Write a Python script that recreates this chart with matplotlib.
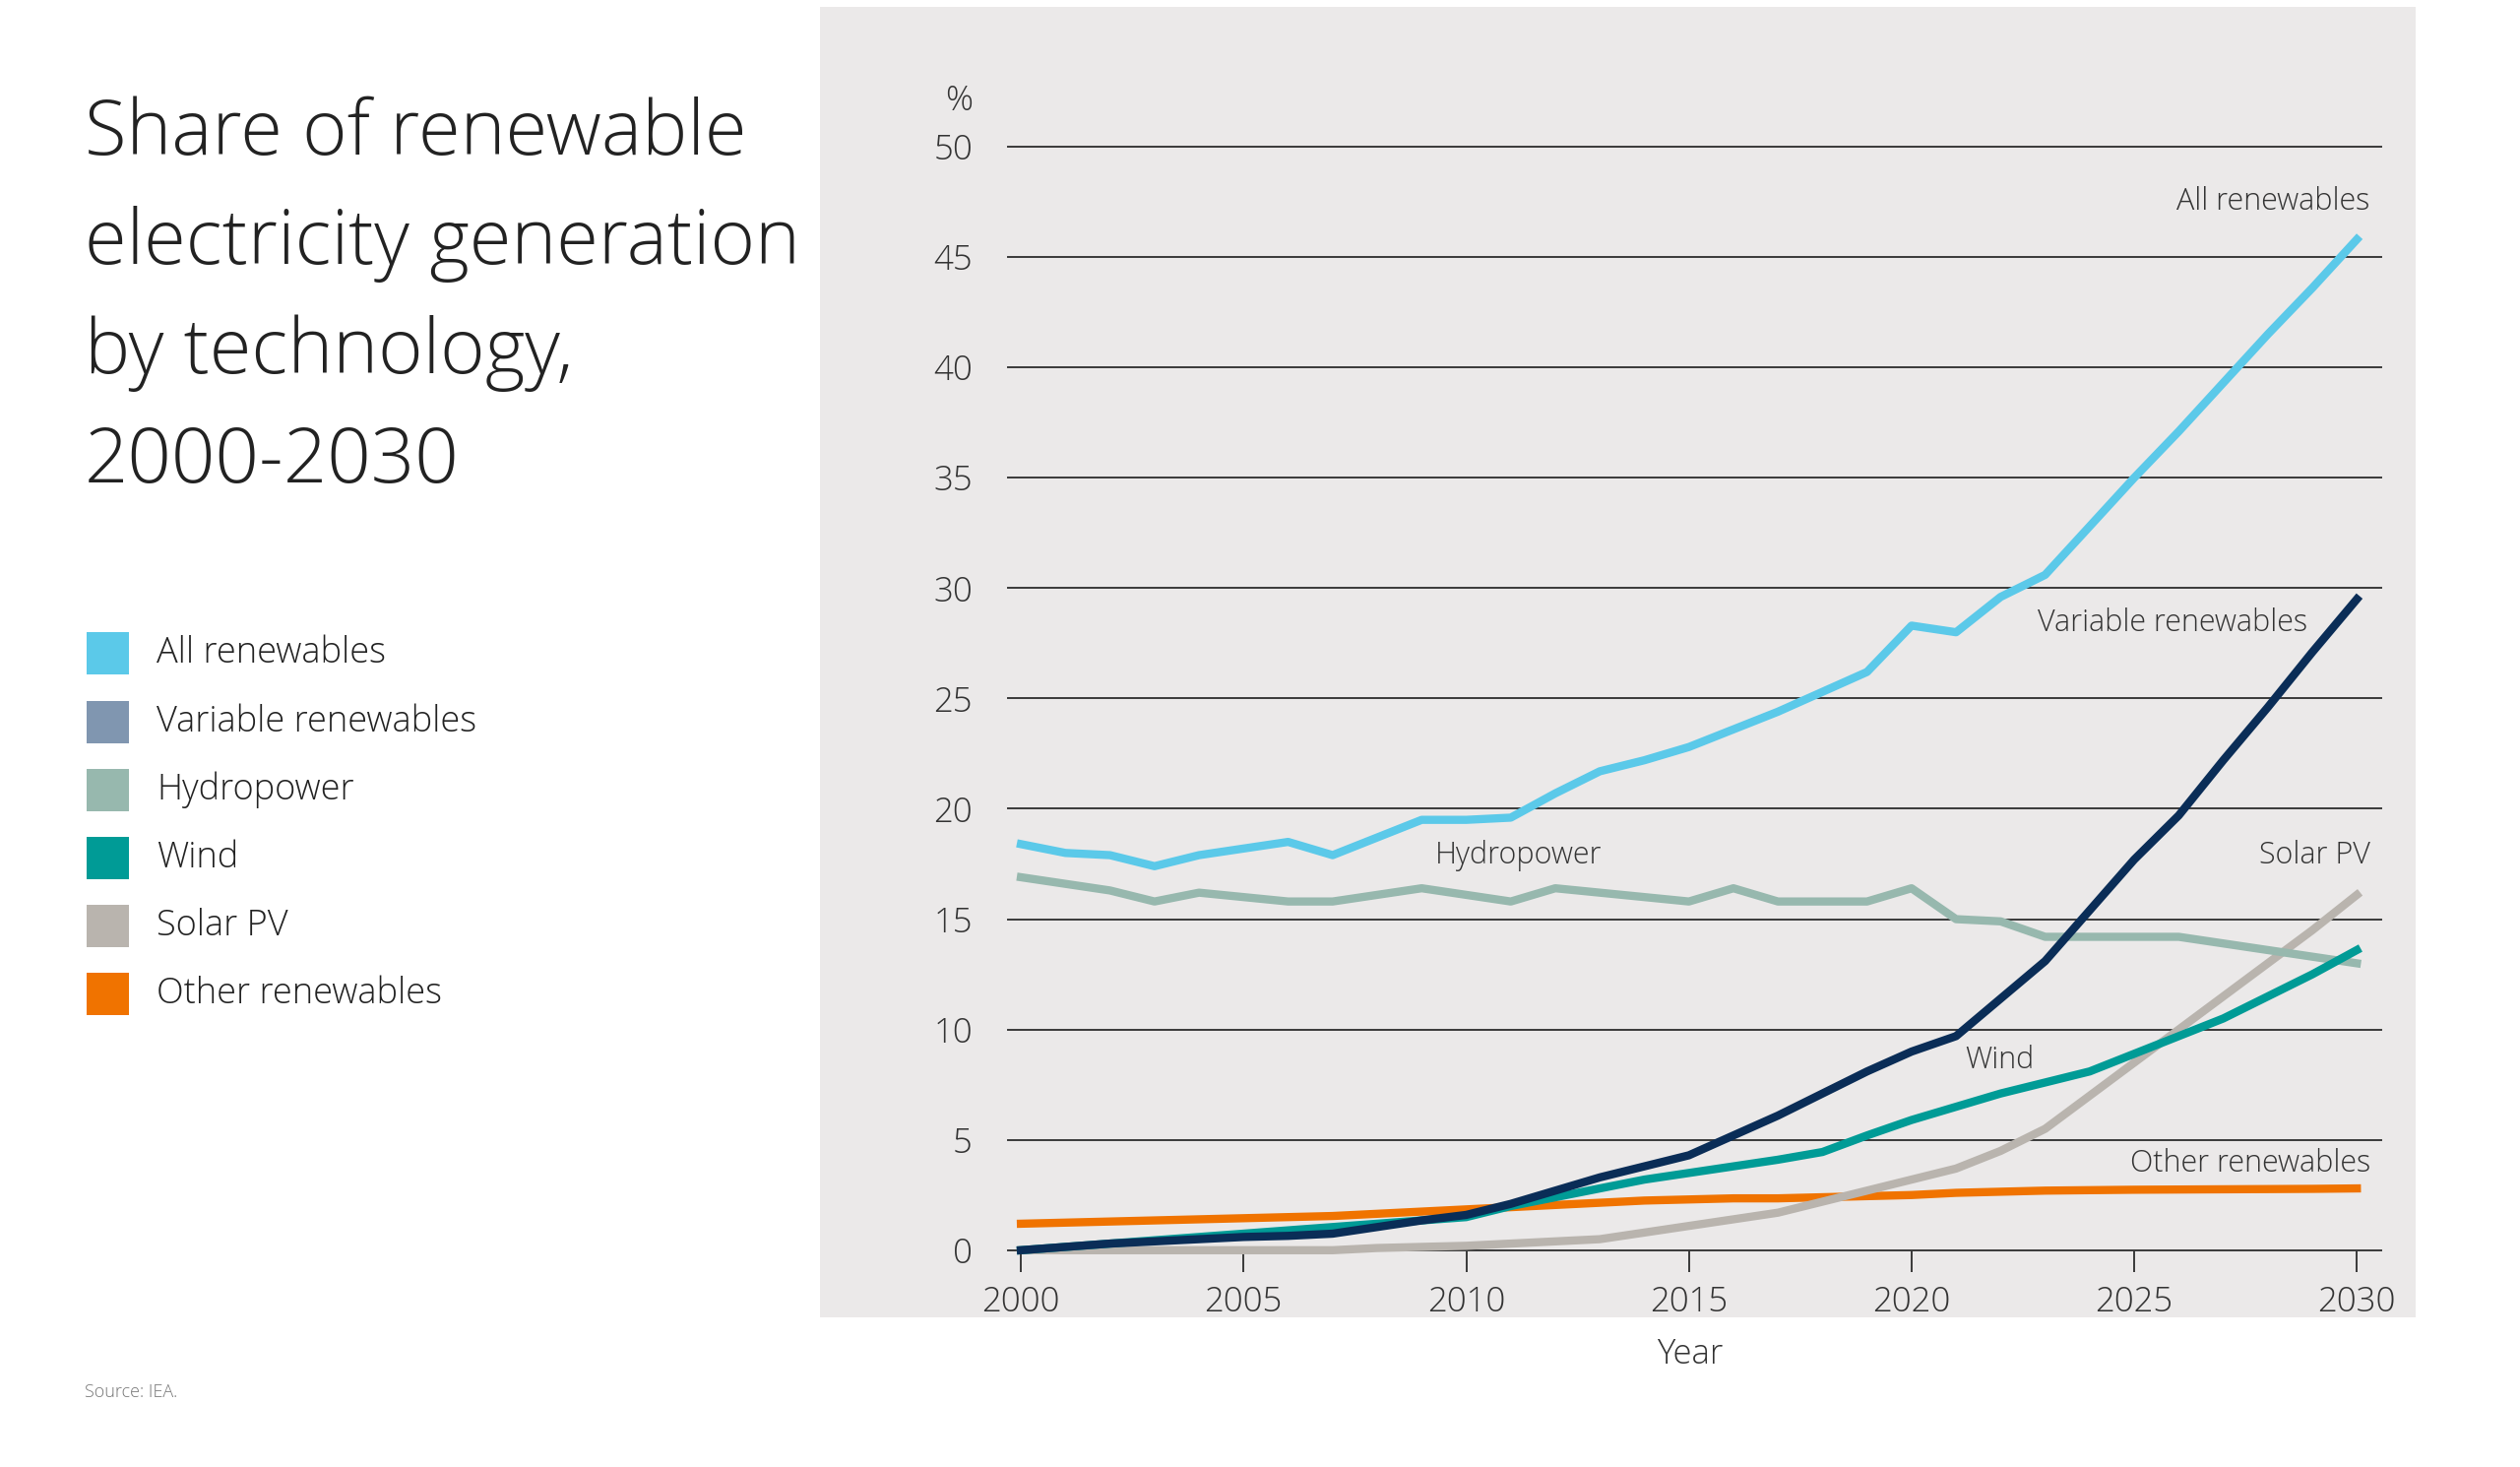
import matplotlib
matplotlib.use("Agg")
import matplotlib.pyplot as plt
from matplotlib import font_manager as fm
from matplotlib.patches import Rectangle

# pick a light sans face if one is installed
names = {(f.name, f.weight) for f in fm.fontManager.ttflist}
fam = "DejaVu Sans"
for cand in ["Open Sans", "Lato", "Roboto", "Noto Sans"]:
    if any(n == cand and w in ("light", 300) for n, w in names):
        fam = cand
        break
plt.rcParams["font.family"] = [fam, "DejaVu Sans"]
plt.rcParams["font.weight"] = "light"

years = list(range(2000, 2031))

all_renewables = [18.4, 18.0, 17.9, 17.4, 17.9, 18.2, 18.5, 17.9, 18.7, 19.5,
                  19.5, 19.6, 20.7, 21.7, 22.2, 22.8, 23.6, 24.4, 25.3, 26.2,
                  28.3, 28.0, 29.6, 30.6, 32.8, 35.0, 37.1, 39.3, 41.5, 43.6, 45.8]
variable = [0.0, 0.15, 0.3, 0.4, 0.5, 0.6, 0.65, 0.75, 1.05, 1.35,
            1.6, 2.1, 2.7, 3.3, 3.8, 4.3, 5.2, 6.1, 7.1, 8.1,
            9.0, 9.7, 11.4, 13.1, 15.4, 17.7, 19.7, 22.2, 24.6, 27.1, 29.5]
hydro = [16.9, 16.6, 16.3, 15.8, 16.2, 16.0, 15.8, 15.8, 16.1, 16.4,
         16.1, 15.8, 16.4, 16.2, 16.0, 15.8, 16.4, 15.8, 15.8, 15.8,
         16.4, 15.0, 14.9, 14.2, 14.2, 14.2, 14.2, 13.9, 13.6, 13.3, 13.0]
wind = [0.0, 0.15, 0.3, 0.45, 0.6, 0.75, 0.9, 1.05, 1.2, 1.35,
        1.5, 2.0, 2.4, 2.8, 3.2, 3.5, 3.8, 4.1, 4.45, 5.2,
        5.9, 6.5, 7.1, 7.6, 8.1, 8.9, 9.7, 10.5, 11.5, 12.5, 13.6]
solar = [0.0, 0.0, 0.0, 0.0, 0.0, 0.0, 0.0, 0.0, 0.1, 0.15,
         0.2, 0.3, 0.4, 0.5, 0.8, 1.1, 1.4, 1.7, 2.2, 2.7,
         3.2, 3.7, 4.5, 5.5, 7.0, 8.5, 10.0, 11.5, 13.0, 14.5, 16.1]
other = [1.2, 1.25, 1.3, 1.35, 1.4, 1.45, 1.5, 1.55, 1.65, 1.75,
         1.85, 1.95, 2.05, 2.15, 2.25, 2.3, 2.35, 2.35, 2.4, 2.45,
         2.5, 2.6, 2.65, 2.7, 2.72, 2.74, 2.75, 2.76, 2.77, 2.78, 2.8]

legend_names = ["All renewables", "Variable renewables", "Hydropower",
                "Wind", "Solar PV", "Other renewables"]
legend_colors = ["#5BC9E9", "#8096B0", "#97B8AE", "#009B96", "#B9B4AE", "#F07300"]

title_lines = ["Share of renewable", "electricity generation",
               "by technology,", "2000-2030"]
yticks = [0, 5, 10, 15, 20, 25, 30, 35, 40, 45, 50]
xticks = [2000, 2005, 2010, 2015, 2020, 2025, 2030]

text_col = "#333333"
W, H = 1545.0, 900.0  # reference layout units

fig = plt.figure(figsize=(25.6, 14.9), dpi=100)
fig.patch.set_facecolor("white")

# grey panel behind the chart
fig.patches.append(Rectangle((503 / W, 1 - 808 / H), (1481 - 503) / W, (808 - 4) / H,
                             transform=fig.transFigure, facecolor="#EBE9E9",
                             edgecolor="none", zorder=-10))

ax = fig.add_axes([618 / W, 1 - 767 / H, (1460 - 618) / W, (767 - 90) / H])
ax.set_zorder(5)
ax.patch.set_alpha(0)
ax.set_xlim(1999.71, 2030.55)
ax.set_ylim(0, 50)
for s in ax.spines.values():
    s.set_visible(False)

for v in yticks:
    ax.axhline(v, color="#3a3a3a", lw=1.4, zorder=1, clip_on=False)

ax.set_yticks(yticks)
ax.set_xticks(xticks)
ax.tick_params(axis="y", length=0, pad=26, labelsize=25, labelcolor=text_col)
ax.tick_params(axis="x", length=16, width=1.4, color="#3a3a3a", pad=10,
               labelsize=25, labelcolor=text_col)

lw = 6
ax.plot(years, other, color="#F07300", lw=lw, clip_on=False, zorder=3)
ax.plot(years, solar, color="#B9B4AE", lw=lw, clip_on=False, zorder=3)
ax.plot(years, hydro, color="#97B8AE", lw=lw, clip_on=False, zorder=3)
ax.plot(years, wind, color="#009B96", lw=lw, clip_on=False, zorder=4)
ax.plot(years, variable, color="#0A2D57", lw=lw, clip_on=False, zorder=5)
ax.plot(years, all_renewables, color="#5BC9E9", lw=lw, clip_on=False, zorder=5)

# line labels
lab = dict(fontsize=22, color=text_col, va="center")
ax.text(2030.3, 47.5, "All renewables", ha="right", **lab)
ax.text(2028.9, 28.4, "Variable renewables", ha="right", **lab)
ax.text(2009.3, 17.9, "Hydropower", ha="left", **lab)
ax.text(2030.3, 17.9, "Solar PV", ha="right", **lab)
ax.text(2021.2, 8.6, "Wind", ha="left", **lab)
ax.text(2030.3, 3.9, "Other renewables", ha="right", **lab)

fig.text(588 / W, 1 - 62 / H, "%", ha="center", va="center", fontsize=25,
         color=text_col)
fig.text(1036 / W, 1 - 831 / H, "Year", ha="center", va="center", fontsize=25,
         color=text_col)

# title
for i, line in enumerate(title_lines):
    fig.text(52 / W, 1 - (95 + 67 * i) / H, line, ha="left", va="baseline",
             fontsize=56, color="#222222")

# legend
for i, (name, col) in enumerate(zip(legend_names, legend_colors)):
    cy = 401 + 41.8 * i
    fig.patches.append(Rectangle((53 / W, 1 - (cy + 13) / H), 26 / W, 26 / H,
                                 transform=fig.transFigure, facecolor=col,
                                 edgecolor="none"))
    fig.text(96 / W, 1 - cy / H, name, ha="left", va="center", fontsize=26,
             color="#222222")

fig.text(52 / W, 1 - 854 / H, "Source: IEA.", ha="left", va="center",
         fontsize=13, color="#777777")

fig.savefig("out.png", dpi=100)
